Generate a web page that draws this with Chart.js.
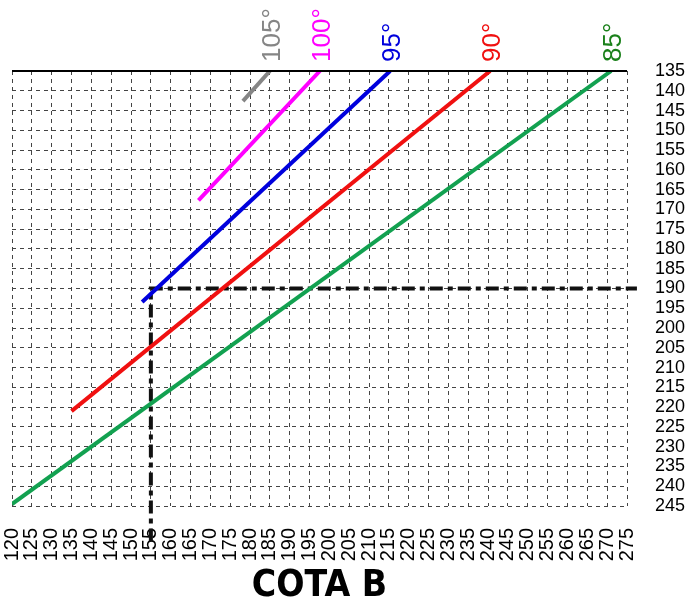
<!DOCTYPE html>
<html>
<head>
<meta charset="utf-8">
<script src="https://cdn.jsdelivr.net/npm/chart.js@4"></script>
<style>
  html, body { margin: 0; padding: 0; background: #fff; }
  #wrap { width: 691px; height: 603px; }
</style>
</head>
<body>
<div id="wrap"><canvas id="CotaChart"></canvas></div>
<script>
// axis ranges (cota B along x, cota on the right, reversed)
const xMin = 120, xMax = 275;
const yMin = 135, yMax = 245;
const tickStep = 5;

// angle lines
const angleLabels = ['85°', '90°', '95°', '100°', '105°'];
const lineStartX = [120, 135, 152.8, 167, 178.2];
const lineStartY = [244.5, 221, 193.4, 167.7, 142.6];
const lineEndX = [271, 240.5, 215.3, 197.6, 185];
const lineEndY = [135, 135, 135, 135, 135];
const lineColors = ['#12a150', '#f01010', '#0000dd', '#ff00ff', '#858585'];
const labelColors = ['#1a801a', '#f01010', '#0000dd', '#ff00ff', '#858585'];

// reading guide (dash-dot)
const guideX = [155, 155, 277.5];
const guideY = [254, 190, 190];

const FONT = "'Liberation Sans', Arial, sans-serif";

const datasets = angleLabels.map((lab, i) => ({
    label: lab,
    data: [{ x: lineStartX[i], y: lineStartY[i] }, { x: lineEndX[i], y: lineEndY[i] }],
    borderColor: lineColors[i],
    backgroundColor: lineColors[i],
    borderWidth: 4,
    showLine: true,
    pointRadius: 0
}));

datasets.push({
    label: 'guide',
    data: guideX.map((x, i) => ({ x: x, y: guideY[i] })),
    borderColor: '#111',
    borderWidth: 4,
    borderDash: [13, 5, 5, 5],
    showLine: true,
    pointRadius: 0,
    clip: false
});

// top border + angle tags above each line end
const tagsPlugin = {
    id: 'tags',
    afterDatasetsDraw(chart) {
        const ctx = chart.ctx;
        const area = chart.chartArea;
        const xs = chart.scales.x, ys = chart.scales.y;
        ctx.save();
        ctx.strokeStyle = '#000';
        ctx.lineWidth = 2;
        ctx.beginPath();
        ctx.moveTo(area.left, area.top);
        ctx.lineTo(area.right, area.top);
        ctx.stroke();

        ctx.font = '26px ' + FONT;
        ctx.textAlign = 'left';
        ctx.textBaseline = 'middle';
        angleLabels.forEach((lab, i) => {
            const px = xs.getPixelForValue(lineEndX[i]) + 3;
            const py = ys.getPixelForValue(lineEndY[i]) - 9;
            ctx.save();
            ctx.translate(px, py);
            ctx.rotate(-Math.PI / 2);
            ctx.fillStyle = labelColors[i];
            ctx.fillText(lab, 0, 0);
            ctx.restore();
        });
        ctx.restore();
    }
};

new Chart(document.getElementById('CotaChart'), {
    type: 'scatter',
    data: { datasets },
    plugins: [tagsPlugin],
    options: {
        responsive: true,
        maintainAspectRatio: false,
        animation: false,
        layout: { padding: { left: 12, top: 71, right: 0, bottom: 0 } },
        plugins: {
            legend: { display: false },
            tooltip: { enabled: false }
        },
        scales: {
            x: {
                type: 'linear',
                min: xMin,
                max: xMax,
                afterFit(scale) {
                    scale.height = 97;
                    scale.paddingLeft = 0;
                    scale.paddingRight = 0;
                },
                ticks: {
                    stepSize: tickStep,
                    autoSkip: false,
                    minRotation: 90,
                    maxRotation: 90,
                    padding: 22,
                    color: '#000',
                    font: { family: FONT, size: 20 }
                },
                grid: { color: '#444', lineWidth: 1, drawTicks: false },
                border: { display: false, dash: [4, 4] },
                title: {
                    display: true,
                    text: 'COTA B',
                    color: '#000',
                    padding: 0,
                    font: { family: "'Liberation Sans Narrow', 'DejaVu Sans Condensed', sans-serif", size: 37, weight: 'bold', lineHeight: 0.9 }
                }
            },
            y: {
                type: 'linear',
                position: 'right',
                reverse: true,
                min: yMin,
                max: yMax,
                afterFit(scale) { scale.width = 64; },
                ticks: {
                    stepSize: tickStep,
                    autoSkip: false,
                    padding: 28,
                    color: '#000',
                    font: { family: FONT, size: 18 }
                },
                grid: { color: '#444', lineWidth: 1, drawTicks: false },
                border: { display: false, dash: [4, 4] }
            }
        }
    }
});
</script>
</body>
</html>
